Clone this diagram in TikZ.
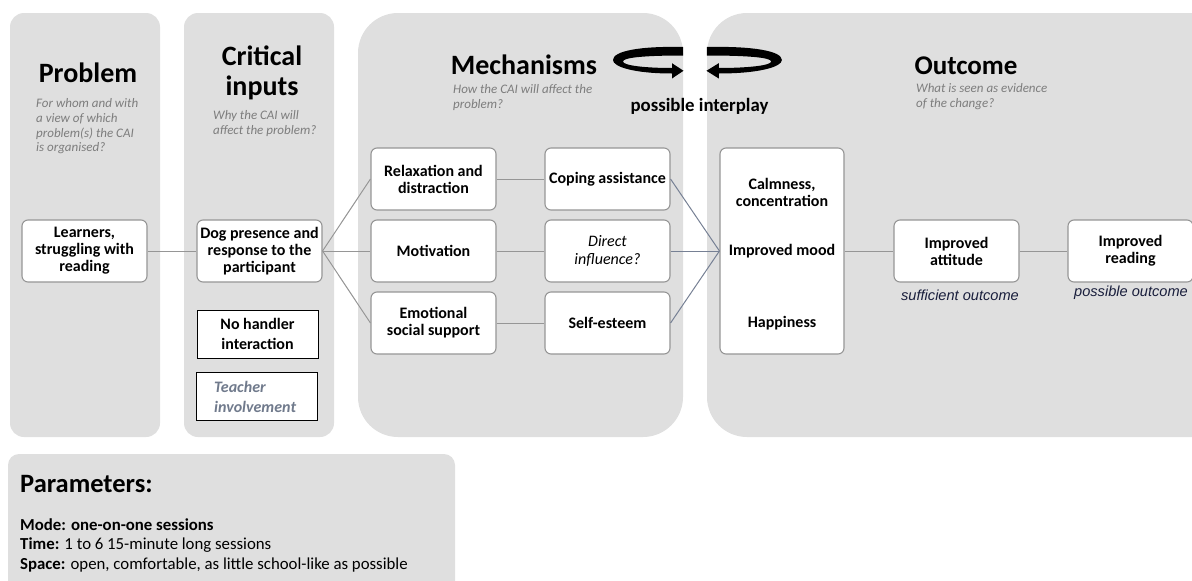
\documentclass[tikz,border=0pt]{standalone}
\usepackage{fontspec}
\setmainfont{Carlito}
\newfontfamily\arialfont{Liberation Sans}
\usetikzlibrary{calc}

\definecolor{panelgray}{RGB}{223,223,223}
\definecolor{boxedge}{RGB}{150,150,150}
\definecolor{linkgray}{RGB}{150,150,150}
\definecolor{linkblue}{RGB}{118,128,148}
\definecolor{subgray}{RGB}{125,125,125}
\definecolor{teacherblue}{RGB}{112,122,140}
\definecolor{navytext}{RGB}{25,30,60}

% ribbon-shaped arrow drawn in the left position; the right one is a mirror
\newcommand{\interplayribbon}{%
  \fill[black] (683,47) .. controls (640,46) and (613,51) .. (613,60)
    .. controls (613,67) and (635,73.5) .. (672,73.5)
    -- (672,78.5) -- (683.5,70.8) -- (672,63.2) -- (672,68)
    .. controls (645,68) and (623,65.5) .. (623,61.5)
    .. controls (623,57.5) and (645,55.5) .. (683,55.5) -- cycle;}

\begin{document}
\begin{tikzpicture}[x=1pt,y=-1pt,
  panel/.style={fill=panelgray},
  titletext/.style={font=\fontsize{28}{30}\selectfont\bfseries, align=center, inner sep=0pt},
  subtext/.style={font=\fontsize{13}{14.7}\selectfont\itshape, text=subgray, align=left, anchor=west, inner sep=0pt},
  box/.style={draw=boxedge, line width=1.1pt, fill=white, rounded corners=6pt,
    align=center, font=\fontsize{16}{17}\selectfont\bfseries, inner sep=0pt,
    minimum width=125pt, minimum height=62pt},
  plainbox/.style={draw=black, line width=1pt, fill=white, inner sep=0pt,
    minimum width=121pt, minimum height=48pt, font=\fontsize{16}{20}\selectfont\bfseries},
  boxtext/.style={font=\fontsize{16}{17}\selectfont\bfseries, align=center, inner sep=0pt},
  link/.style={draw=linkgray, line width=1pt},
  linkb/.style={draw=linkblue, line width=1pt},
  notetext/.style={font=\arialfont\fontsize{14.6}{16}\selectfont\itshape, text=navytext, inner sep=0pt},
  paramtext/.style={font=\fontsize{16.8}{20}\selectfont, align=left, anchor=west, inner sep=0pt}
]
\path[use as bounding box] (0,0) rectangle (1192,581);
\clip (0,0) rectangle (1192,581);

% column panels
\fill[panel, rounded corners=14pt] (10,13) rectangle (160,437);
\fill[panel, rounded corners=14pt] (184,13) rectangle (334,437);
\fill[panel, rounded corners=40pt] (358,13) rectangle (683,437);
\fill[panel, rounded corners=40pt] (707,13) rectangle (1240,437);
\fill[panel, rounded corners=11pt] (8,454) rectangle (455,620);

% column headings
\node[titletext] (tproblem) at (88,73) {Problem};
\node[subtext] (sproblem) at (36,126.3) {For whom and with\\a view of which\\problem(s) the CAI\\is organised?};
\node[titletext] (tinputs) at (262,73.3) {Critical\\inputs};
\node[subtext] (sinputs) at (213,123.5) {Why the CAI will\\affect the problem?};
\node[titletext] (tmech) at (524,65) {Mechanisms};
\node[subtext] (smech) at (453,97.2) {How the CAI will affect the\\problem?};
\node[titletext, font=\fontsize{27}{30}\selectfont\bfseries] (toutcome) at (966,66) {Outcome};
\node[subtext] (soutcome) at (916,96.7) {What is seen as evidence\\of the change?};

% interplay arrows
\interplayribbon
\begin{scope}[shift={(1437.8,0)}, xscale=-1.07]
  \interplayribbon
\end{scope}
\node[font=\fontsize{18.8}{20}\selectfont\bfseries, inner sep=0pt] (interplay) at (699.5,106) {possible interplay};

% boxes
\node[box] (learners) at (84.5,251) {Learners,\\struggling with\\reading};
\node[box] (dog) at (259.5,251) {Dog presence and\\response to the\\participant};
\node[plainbox, align=center] (handler) at (257.5,334) {No handler\\interaction};
\node[plainbox] (teacher) at (256.5,396) {};
\node[anchor=west, align=left, inner sep=0pt, text=teacherblue, font=\fontsize{16}{20}\selectfont\bfseries\itshape] (teachertext) at (214,397) {Teacher\\involvement};

\node[box] (relax) at (433.5,179) {Relaxation and\\distraction};
\node[box] (motiv) at (433.5,251) {Motivation};
\node[box] (emot) at (433.5,323) {Emotional\\social support};
\node[box] (coping) at (607.5,179) {Coping assistance};
\node[box, font=\fontsize{16}{18.5}\selectfont\itshape] (direct) at (607.5,251) {Direct\\influence?};
\node[box] (esteem) at (607.5,323) {Self-esteem};

\node[box, minimum width=124pt, minimum height=206pt] (mood) at (782,251) {};
\node[boxtext] (calm) at (782,192) {Calmness,\\concentration};
\node[boxtext] (moodtext) at (782,251) {Improved mood};
\node[boxtext] (happy) at (782,323) {Happiness};

\node[box] (attitude) at (956.5,251) {Improved\\attitude};
\node[box] (reading) at (1130.5,251) {Improved\\reading};
\node[notetext] (suff) at (960,295) {sufficient outcome};
\node[notetext] (poss) at (1131,293) {possible outcome};

% connectors
\draw[link] (learners.east) -- (dog.west);
\draw[link] (dog.east) -- (relax.west);
\draw[link] (dog.east) -- (motiv.west);
\draw[link] (dog.east) -- (emot.west);
\draw[link] (relax.east) -- (coping.west);
\draw[link] (motiv.east) -- (direct.west);
\draw[link] (emot.east) -- (esteem.west);
\draw[linkb] (coping.east) -- (mood.west);
\draw[linkb] (direct.east) -- (mood.west);
\draw[linkb] (esteem.east) -- (mood.west);
\draw[link] (mood.east) -- (attitude.west);
\draw[link] (attitude.east) -- (reading.west);

% parameters panel
\node[font=\fontsize{26.5}{28}\selectfont\bfseries, anchor=west, inner sep=0pt] (params) at (20,484) {Parameters:};
\node[paramtext] (pmode) at (20,525) {\textbf{Mode: one-on-one sessions}};
\node[paramtext] (ptime) at (20,545) {\textbf{Time:} 1 to 6 15-minute long sessions};
\node[paramtext] (pspace) at (20,565) {\textbf{Space:} open, comfortable, as little school-like as possible};
\end{tikzpicture}
\end{document}
